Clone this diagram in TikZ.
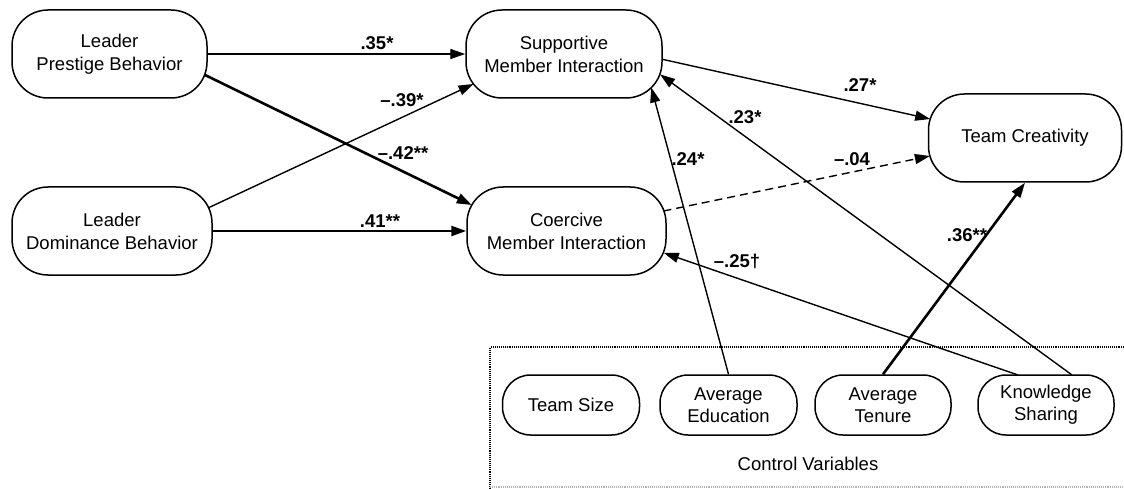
\documentclass[tikz,border=0pt]{standalone}
\usepackage{fontspec}
\setmainfont{Liberation Sans}
\usetikzlibrary{arrows.meta,calc,backgrounds}
\begin{document}
\begin{tikzpicture}[x=1pt,y=-1pt,
  box/.style={draw, line width=1.5pt, fill=white, rounded corners=36pt, minimum height=88pt, align=center, font=\fontsize{18.5}{23}\selectfont, inner sep=0pt},
  cbox/.style={box, rounded corners=28pt, minimum height=60pt, minimum width=137pt, font=\fontsize{18.5}{22}\selectfont},
  conn/.style={line width=1.4pt, -{Triangle[length=15pt,width=10pt]}},
  thickconn/.style={conn, line width=2.6pt},
  dashconn/.style={conn, dash pattern=on 8pt off 5pt},
  coef/.style={font=\fontsize{18.5}{22}\selectfont\bfseries, inner sep=0pt},
  frame/.style={densely dotted, line width=1.1pt}]
\useasboundingbox (0,0) rectangle (1124,489);

% control variables frame
\draw[frame] (1130,347) -- (490,347) -- (490,495);
\draw[frame, gray!60] (490,487) -- (1130,487);

% main nodes
\node[box, minimum width=195pt] (P) at (109.5,54) {Leader\\Prestige Behavior};
\node[box, minimum width=200pt] (D) at (112,231) {Leader\\Dominance Behavior};
\node[box, minimum width=196pt] (S) at (564,54) {Supportive\\Member Interaction};
\node[box, minimum width=199pt] (C) at (566.5,231) {Coercive\\Member Interaction};
\node[box, minimum width=193pt] (T) at (1025,138) {Team Creativity};

% control nodes
\node[cbox] (TS) at (571,405) {Team Size};
\node[cbox] (ED) at (728.5,405) {Average\\Education};
\node[cbox, minimum width=136pt] (TN) at (883,405) {Average\\Tenure};
\node[cbox, minimum width=136pt] (KS) at (1046,405) {Knowledge\\Sharing};
\node[font=\fontsize{18.5}{22}\selectfont, inner sep=0pt] (CV) at (808,464) {Control Variables};

% connectors
\begin{scope}[on background layer]
\draw[conn] (P.east) -- (S.west);
\draw[thickconn] ($(P.center)+(93.5,20)$) -- ($(C.center)+(-94.7,-26)$);
\draw[conn] ($(D.center)+(96,-23)$) -- ($(S.center)+(-90.5,30)$);
\draw[thickconn] (D.east) -- (C.west);
\draw[conn] ($(S.center)+(97,5)$) -- ($(T.center)+(-94.8,-19)$);
\draw[dashconn] ($(C.center)+(97,-20)$) -- ($(T.center)+(-95.1,18)$);
\draw[conn] (ED.north) -- ($(S.center)+(87.3,33.5)$);
\draw[conn] ($(KS.center)+(26,-30)$) -- ($(S.center)+(96.1,20.4)$);
\draw[conn] ($(KS.center)+(-28,-30)$) -- ($(C.center)+(97.3,21.9)$);
\draw[thickconn] (TN.north) -- (T.south);
\end{scope}

% coefficients
\node[coef] (l1) at (377,43) {.35*};
\node[coef] (l2) at (402,100) {–.39*};
\node[coef] (l3) at (403,153) {–.42**};
\node[coef] (l4) at (380,221) {.41**};
\node[coef] (l5) at (860,85) {.27*};
\node[coef] (l6) at (745,117) {.23*};
\node[coef] (l7) at (688,159) {.24*};
\node[coef] (l8) at (852,159) {–.04};
\node[coef] (l9) at (737,261) {–.25†};
\node[coef] (l10) at (967,235) {.36**};
\end{tikzpicture}
\end{document}
